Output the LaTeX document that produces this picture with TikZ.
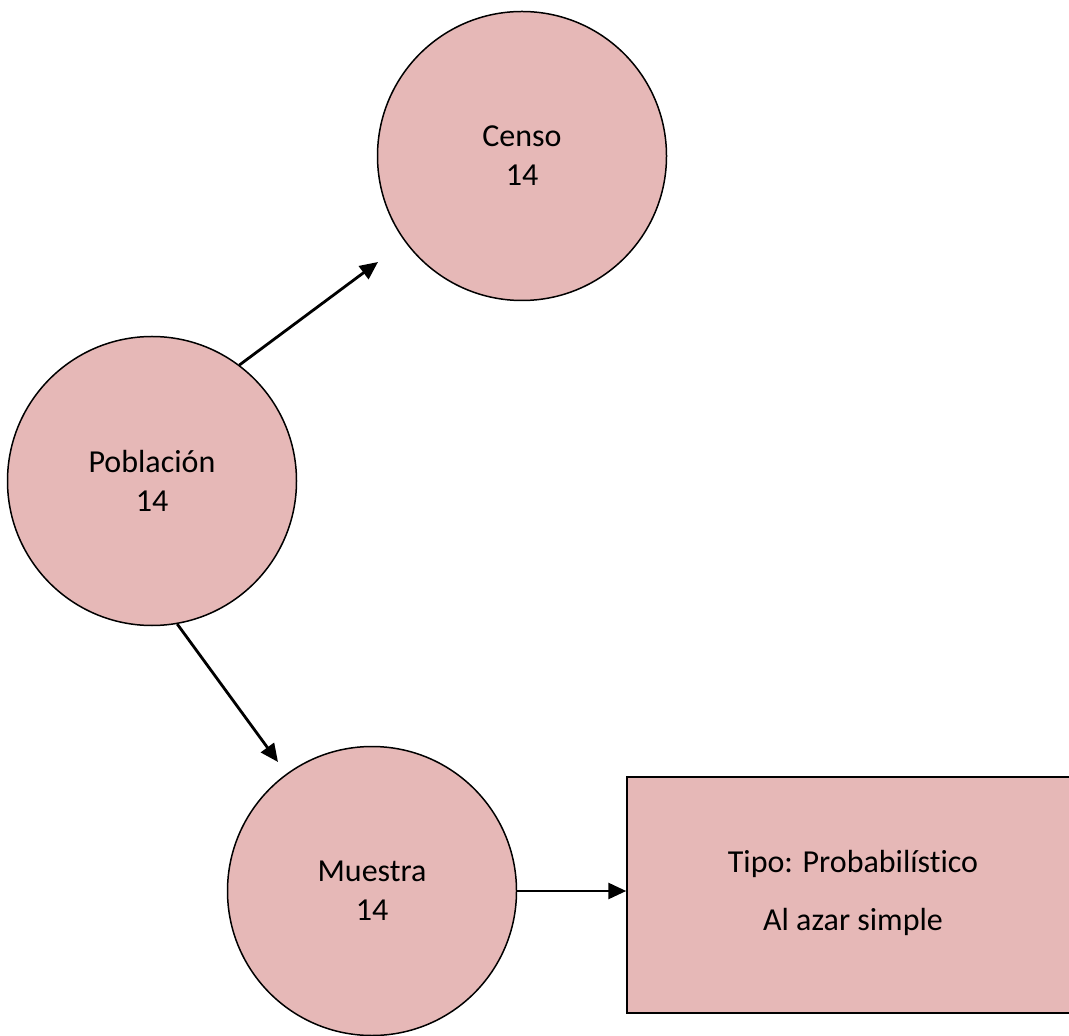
\documentclass[tikz,border=0pt]{standalone}
\usepackage{fontspec}
\setmainfont[RawFeature={-liga;-clig;-calt;-dlig}]{Carlito}
\usetikzlibrary{arrows.meta}
\definecolor{rosa}{HTML}{E6B8B7}

\begin{document}
\begin{tikzpicture}[x=0.5pt, y=-0.5pt, font=\fontsize{16}{19.5}\selectfont,
  circ/.style={circle, draw, fill=rosa, line width=0.75pt, minimum size=144.5pt, inner sep=0pt, align=center},
  block/.style={rectangle, draw, fill=rosa, line width=0.75pt, minimum width=226pt, minimum height=118pt, align=center},
  flecha/.style={-{Triangle[length=9pt, width=8pt]}, line width=1.4pt}]

    \clip (0,0) rectangle (1069,1036);

    \node[circ] (poblacion) at (152,481) {Población\\14};
    \node[circ] (censo) at (522,156) {Censo\\14};
    \node[circ] (muestra) at (372,891) {Muestra\\14};
    \node[block] (tipo) at (853,895) {Tipo: Probabilístico\\[9.5pt]Al azar simple\\[-14.5pt]};

    \coordinate (haciaCenso) at (378,262);
    \coordinate (haciaMuestra) at (278,762);

    \draw[flecha] (poblacion.53) -- (haciaCenso);
    \draw[flecha] (poblacion.-80) -- (haciaMuestra);
    \draw[flecha] (muestra.east) -- (muestra.east -| tipo.west);

\end{tikzpicture}
\end{document}
